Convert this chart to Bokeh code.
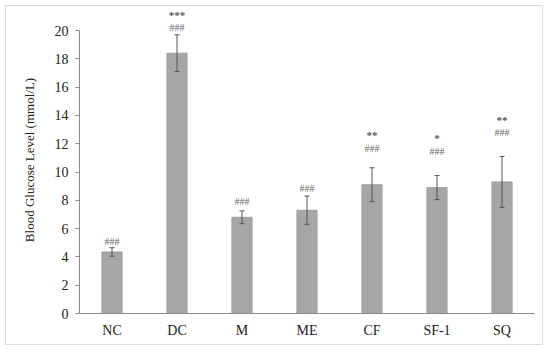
from bokeh.plotting import figure
from bokeh.models import ColumnDataSource, Whisker, TeeHead, FactorRange, Range1d
from bokeh.core.properties import value
from bokeh.embed import file_html
from bokeh.resources import INLINE

groups = ["NC", "DC", "M", "ME", "CF", "SF-1", "SQ"]
means = [4.35, 18.4, 6.8, 7.3, 9.1, 8.9, 9.3]
errors = [0.3, 1.3, 0.45, 1.0, 1.2, 0.85, 1.8]
hash_marks = ["###", "###", "###", "###", "###", "###", "###"]
hash_y = [5.1, 20.2, 7.9, 8.85, 11.65, 11.45, 12.8]
star_marks = ["", "***", "", "", "**", "*", "**"]
star_y = [0, 21.3, 0, 0, 12.8, 12.6, 13.9]
y_ticks = [0, 2, 4, 6, 8, 10, 12, 14, 16, 18, 20]

upper = [m + e for m, e in zip(means, errors)]
lower = [m - e for m, e in zip(means, errors)]

src = ColumnDataSource(dict(g=groups, m=means, up=upper, lo=lower,
                            h=hash_marks, hy=hash_y, s=star_marks, sy=star_y))

p = figure(width=538, height=340, output_backend="svg", toolbar_location=None,
           x_range=FactorRange(*groups, range_padding=0),
           y_range=Range1d(0, 21.7),
           min_border_left=73, min_border_right=10, min_border_top=0, min_border_bottom=33)
p.margin = (5, 0, 0, 5)
p.styles = {"border": "1px solid #dcdcdc"}
p.outline_line_color = None
p.xgrid.grid_line_color = None
p.ygrid.grid_line_color = None

p.vbar(x="g", top="m", width=0.31, source=src, fill_color="#a6a6a6", line_color="#a0a0a0")

w = Whisker(base="g", upper="up", lower="lo", source=src, level="overlay",
            line_color="#555555", line_width=1,
            upper_head=TeeHead(size=5, line_color="#555555", line_width=1),
            lower_head=TeeHead(size=5, line_color="#555555", line_width=1))
p.add_layout(w)

p.text(x="g", y="hy", text="h", source=src, text_align="center", text_baseline="middle",
       text_font=value("Liberation Serif"), text_font_size="10px",
       text_color="#666666")
p.text(x="g", y="sy", text="s", source=src, text_align="center", text_baseline="middle",
       y_offset=3, text_font=value("Liberation Serif"), text_font_size="11px",
       text_color="#555555", text_font_style="bold")

ya = p.yaxis[0]
ya.bounds = (0, 20)
ya.ticker = y_ticks
ya.axis_line_color = "#8a8a8a"
ya.major_tick_line_color = "#8a8a8a"
ya.major_tick_in = 0
ya.major_tick_out = 4
ya.minor_tick_line_color = None
ya.major_label_text_font = "Liberation Serif"
ya.major_label_text_font_size = "14px"
ya.major_label_text_color = "#222222"
ya.major_label_standoff = 7
ya.axis_label = "Blood Glucose Level (mmol/L)"
ya.axis_label_text_font = "Liberation Serif"
ya.axis_label_text_font_size = "13px"
ya.axis_label_text_font_style = "normal"
ya.axis_label_text_color = "#222222"
ya.axis_label_standoff = 15

xa = p.xaxis[0]
xa.axis_line_color = "#8a8a8a"
xa.major_tick_line_color = None
xa.minor_tick_line_color = None
xa.major_label_text_font = "Liberation Serif"
xa.major_label_text_font_size = "14px"
xa.major_label_text_color = "#222222"
xa.major_label_standoff = 3

open("out.html", "w").write(file_html(p, INLINE))
